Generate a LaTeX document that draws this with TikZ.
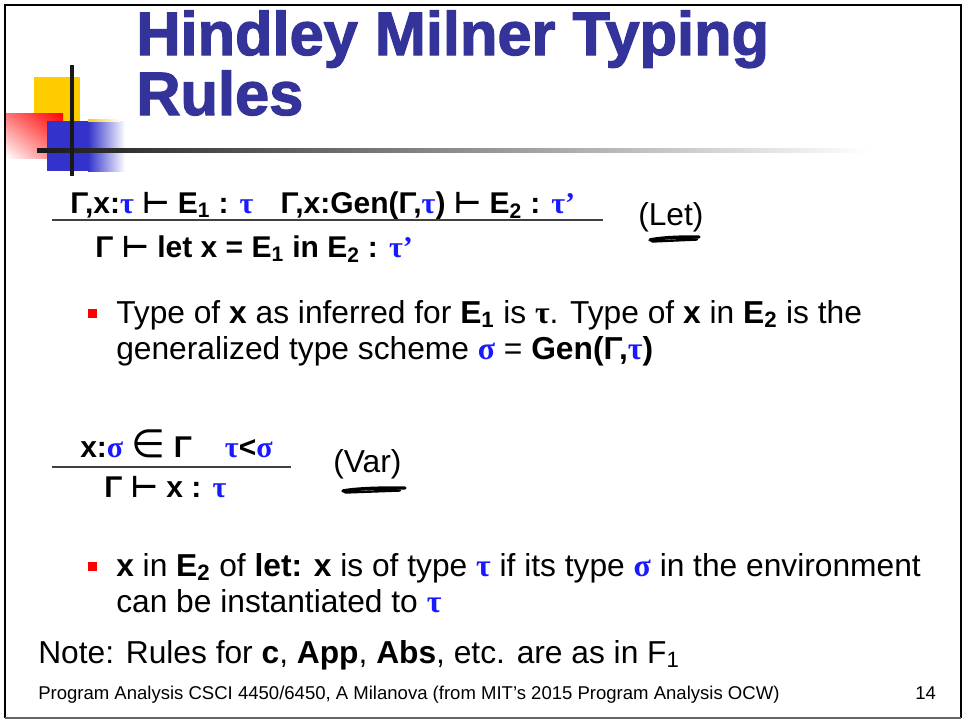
\documentclass[tikz,border=0pt]{standalone}
\usepackage{fontspec}
\usetikzlibrary{shadings}
\setmainfont{Liberation Sans}
\newfontfamily\grk{Liberation Serif}
\newfontfamily\symb{DejaVu Sans}
\newfontfamily\titlefont{Liberation Sans}[BoldFeatures={FakeBold=2}]
\definecolor{titleblue}{RGB}{51,51,153}
\definecolor{tyblue}{RGB}{25,25,255}
\definecolor{barblue}{RGB}{51,51,204}
\definecolor{boxyellow}{RGB}{255,204,0}
\newcommand{\tb}{{\grk\bfseries\color{tyblue}τ}}
\newcommand{\tk}{{\grk\bfseries τ}}
\newcommand{\sg}{{\grk\bfseries\color{tyblue}σ}}
\newcommand{\tp}{{\grk\bfseries\color{tyblue}τ’}}
\newcommand{\yields}{{\symb\bfseries ⊢}}
\newcommand{\member}{{\symb\mdseries\scalebox{1.3}{∈}}}

\begin{document}
\begin{tikzpicture}[x=0.75pt,y=-0.75pt,
    every node/.style={inner sep=0pt,anchor=base west},
    title/.style={font=\fontsize{46}{50}\selectfont\titlefont\bfseries,text=titleblue},
    rule/.style={font=\fontsize{22.5}{26}\selectfont\bfseries},
    body/.style={font=\fontsize{23.8}{28}\selectfont},
    foot/.style={font=\fontsize{13.9}{16}\selectfont},
    bullet/.style={fill=red,minimum size=6.75pt,anchor=center},
    rulebar/.style={draw=black!75,line width=1.1pt},
    scribble/.style={line width=2.6pt,line cap=round}]
    \useasboundingbox (0,0) rectangle (964,722);

    % slide frame
    \fill[white] (0,0) rectangle (964,722);
    \draw[line width=2.2pt] (5,718) -- (5,5) -- (961,5) -- (961,718);
    \draw[black!60,line width=0.8pt] (5,718) -- (961,718);

    % corner decoration
    \fill[boxyellow] (34,77) rectangle (80,122);
    \shade[upper right=red,upper left=red!55,lower right=red!55,lower left=white] (6,113) rectangle (63,158);
    \fill[barblue] (47,121) rectangle (88,171);
    \shade[left color=barblue,right color=white] (88,121) rectangle (125,171);
    \shade[left color=boxyellow,right color=white] (88,119) rectangle (120,121);
    \shade[left color=black!90,middle color=black!60,right color=white] (37,148) rectangle (870,152);
    \fill[black!90] (70,65) rectangle (74,176);

    % title
    \node[title] (title1) at (136,55) {Hindley Milner Typing};
    \node[title] (title2) at (136,115) {Rules};

    % Let rule
    \node[rule] (letprem) at (70,213) {Γ,x:\tb{} \yields{} E\textsubscript{1} : \tb\hspace{0.9em}Γ,x:Gen(Γ,\tb) \yields{} E\textsubscript{2} : \tp};
    \coordinate (letL) at (52,220);
    \coordinate (letR) at (603,220);
    \draw[rulebar] (letL) -- (letR);
    \node[rule] (letconc) at (95,257) {Γ \yields{} let x = E\textsubscript{1} in E\textsubscript{2} : \tp};
    \node[body] (letname) at (638,225) {(Let)};
    \draw[scribble] (650,240) .. controls (665,237) and (685,237) .. (699,237);
    \draw[scribble,line width=1.8pt] (652,241.5) -- (697,239.5);

    % first bullet
    \node[bullet] (b1) at (92.5,313.5) {};
    \node[body] (b1l1) at (116,323) {Type of \textbf{x} as inferred for \textbf{E\textsubscript{1}} is \tk. Type of \textbf{x} in \textbf{E\textsubscript{2}} is the};
    \node[body] (b1l2) at (116,359) {generalized type scheme \sg{} = \textbf{Gen(Γ,\tb)}};

    % Var rule
    \node[rule] (varprem) at (80,457) {x:\sg{} \member{} Γ\hspace{1.1em}\tb<\sg};
    \coordinate (varL) at (52,467);
    \coordinate (varR) at (291,467);
    \draw[rulebar] (varL) -- (varR);
    \node[rule] (varconc) at (104,497) {Γ \yields{} x : \tb};
    \node[body] (varname) at (333,472) {(Var)};
    \draw[scribble] (343,491) .. controls (360,488) and (385,488) .. (405,488);
    \draw[scribble,line width=1.8pt] (345,492.5) -- (400,490.5);

    % second bullet
    \node[bullet] (b2) at (92.5,566) {};
    \node[body] (b2l1) at (116,576) {\textbf{x} in \textbf{E\textsubscript{2}} of \textbf{let: x} is of type \tb{} if its type \sg{} in the environment};
    \node[body] (b2l2) at (116,612) {can be instantiated to \tb};

    \node[body] (note) at (38,663) {Note: Rules for \textbf{c}, \textbf{App}, \textbf{Abs}, etc. are as in F\textsubscript{1}};

    % footer
    \node[foot] (footer) at (38,699) {Program Analysis CSCI 4450/6450, A Milanova (from MIT’s 2015 Program Analysis OCW)};
    \node[foot] (pageno) at (915,699) {14};
\end{tikzpicture}
\end{document}
